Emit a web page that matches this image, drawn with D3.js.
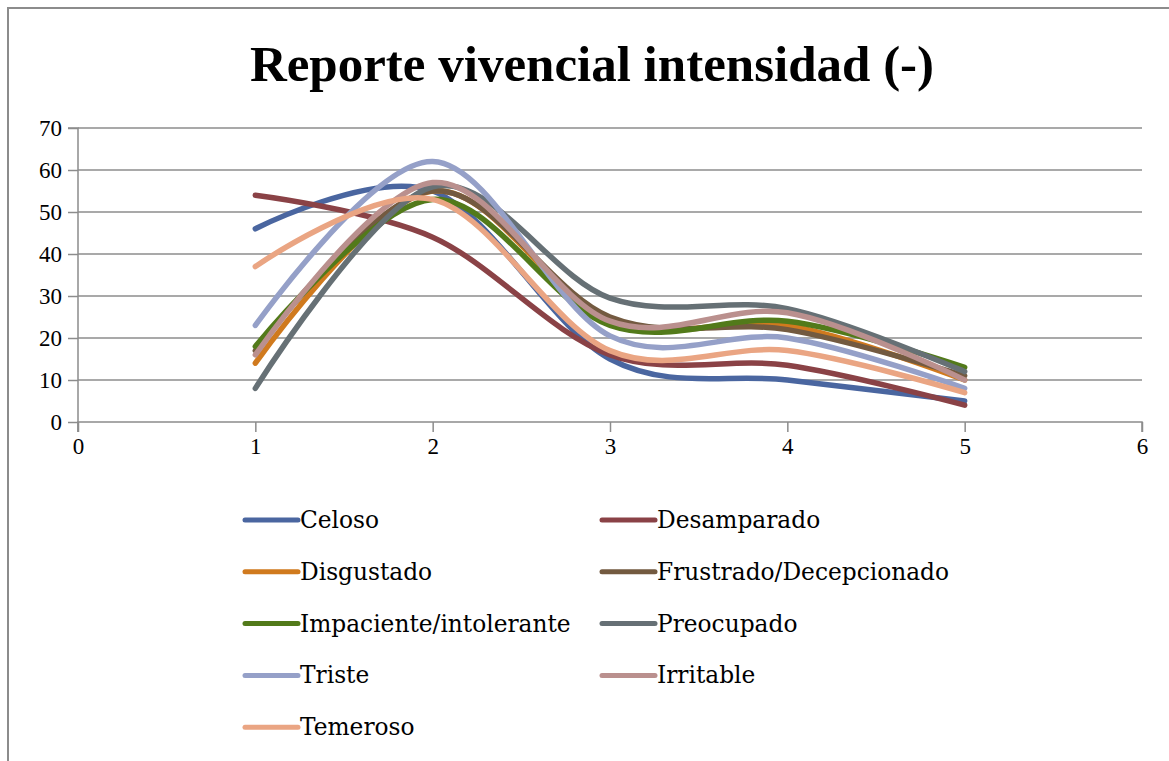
<!DOCTYPE html>
<html>
<head>
<meta charset="utf-8">
<script src="https://cdn.jsdelivr.net/npm/d3@7"></script>
<style>
  body { margin: 0; background: #fff; }
  text { fill: #000; }
</style>
</head>
<body>
<div class="chart"></div>
<script>
var svgWidth = 1169;
var svgHeight = 761;

// data
var xValues = [1, 2, 3, 4, 5];
var seriesNames = ["Celoso", "Desamparado", "Disgustado", "Frustrado/Decepcionado",
  "Impaciente/intolerante", "Preocupado", "Triste", "Irritable", "Temeroso"];
var celoso = [46, 55, 15, 10, 5];
var desamparado = [54, 44, 16, 13.5, 4];
var disgustado = [14, 55, 24, 23, 10];
var frustrado = [17, 55, 25, 22, 11];
var impaciente = [18, 53, 23, 24, 13];
var preocupado = [8, 56, 29.5, 27, 12];
var triste = [23, 62, 20.5, 20, 8];
var irritable = [16, 57, 24, 26, 10];
var temeroso = [37, 53, 17, 17, 7];
var seriesValues = [celoso, desamparado, disgustado, frustrado, impaciente,
  preocupado, triste, irritable, temeroso];
var seriesColors = ["#4a66a0", "#8a4246", "#d07a1e", "#735a40", "#527a1a",
  "#667075", "#95a0c8", "#ba908e", "#eaa583"];
var xTicks = [0, 1, 2, 3, 4, 5, 6];
var yTicks = [0, 10, 20, 30, 40, 50, 60, 70];

var margin = { top: 128, left: 78, right: 27, bottom: 339 };
var width = svgWidth - margin.left - margin.right;
var height = svgHeight - margin.top - margin.bottom;

var svg = d3.select(".chart")
  .append("svg")
  .attr("width", svgWidth)
  .attr("height", svgHeight);

// outer frame (right and bottom edges fall outside the picture)
svg.append("rect")
  .attr("x", 8).attr("y", 8)
  .attr("width", 1300).attr("height", 900)
  .attr("fill", "none")
  .attr("stroke", "#8c8c8c")
  .attr("stroke-width", 2);

svg.append("text")
  .attr("x", 592)
  .attr("y", 81)
  .attr("text-anchor", "middle")
  .style("font-family", "'Liberation Serif', serif")
  .style("font-weight", "bold")
  .style("font-size", "51px")
  .text("Reporte vivencial intensidad (-)");

var chartGroup = svg.append("g")
  .attr("transform", `translate(${margin.left}, ${margin.top})`);

var xScale = d3.scaleLinear().domain([0, 6]).range([0, width]);
var yScale = d3.scaleLinear().domain([0, 70]).range([height, 0]);

// gridlines
chartGroup.selectAll(".grid")
  .data(yTicks.slice(1))
  .enter()
  .append("line")
  .attr("x1", 0)
  .attr("x2", width)
  .attr("y1", d => yScale(d))
  .attr("y2", d => yScale(d))
  .attr("stroke", "#8c8c8c")
  .attr("stroke-width", 1.5);

var bottomAxis = d3.axisBottom(xScale).tickValues(xTicks).tickFormat(d3.format("d"))
  .tickSize(10).tickPadding(6);
var leftAxis = d3.axisLeft(yScale).tickValues(yTicks).tickSize(10).tickPadding(6);

var xAxisG = chartGroup.append("g")
  .attr("transform", `translate(0, ${height})`)
  .call(bottomAxis);

var yAxisG = chartGroup.append("g")
  .call(leftAxis);

[xAxisG, yAxisG].forEach(function (g) {
  g.select(".domain").attr("stroke", "#8c8c8c").attr("stroke-width", 1.5);
  g.selectAll(".tick line").attr("stroke", "#8c8c8c").attr("stroke-width", 1.5);
  g.selectAll(".tick text")
    .style("font-family", "'Liberation Serif', serif")
    .style("font-size", "23px")
    .attr("fill", "#000");
});
xAxisG.select(".domain").attr("d", `M0,10V0H${width}V10`);
yAxisG.select(".domain").attr("d", `M-10,0H0V${height + 10}`);

var line = d3.line()
  .x((d, i) => xScale(xValues[i]))
  .y(d => yScale(d))
  .curve(d3.curveCardinal.tension(0));

chartGroup.selectAll(".series")
  .data(seriesValues)
  .enter()
  .append("path")
  .attr("d", d => line(d))
  .attr("fill", "none")
  .attr("stroke", (d, i) => seriesColors[i])
  .attr("stroke-width", 5.5)
  .attr("stroke-linecap", "round");

// legend, two columns
var legend = svg.append("g");
var items = legend.selectAll("g")
  .data(seriesNames)
  .enter()
  .append("g")
  .attr("transform", (d, i) => `translate(${i % 2 === 0 ? 243 : 600}, ${520 + Math.floor(i / 2) * 51.8})`);

items.append("line")
  .attr("x1", 2).attr("x2", 55)
  .attr("stroke", (d, i) => seriesColors[i])
  .attr("stroke-width", 5)
  .attr("stroke-linecap", "round");

items.append("text")
  .attr("x", 57)
  .attr("y", 8)
  .style("font-family", "'DejaVu Serif', serif")
  .style("font-size", "23.3px")
  .text(d => d);
</script>
</body>
</html>
